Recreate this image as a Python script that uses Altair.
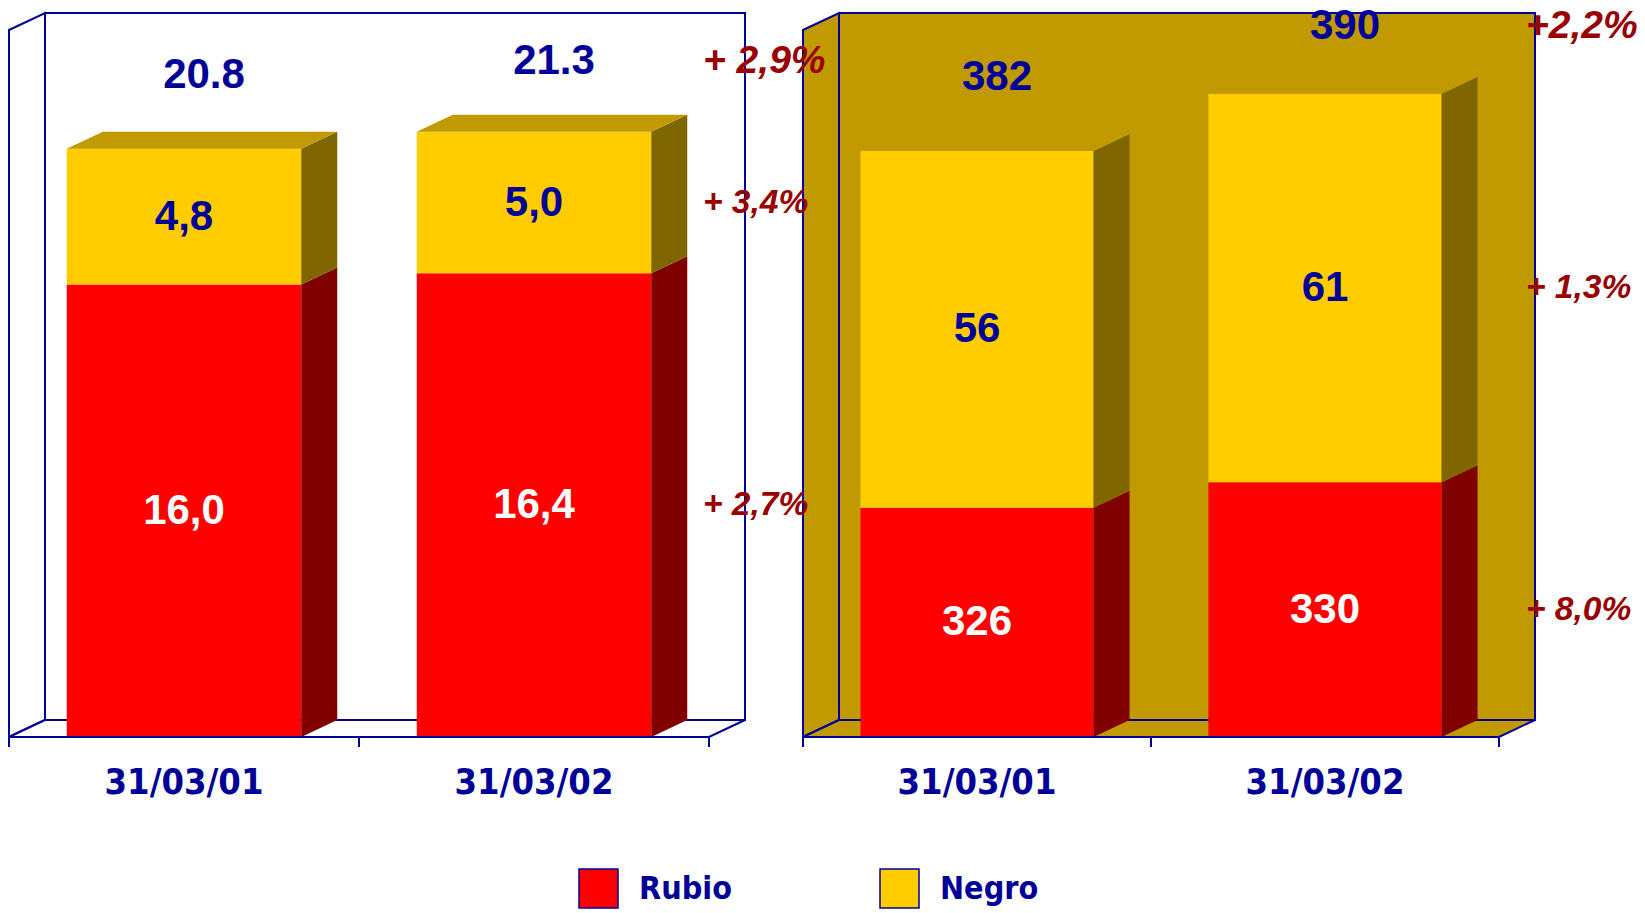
import altair as alt
import pandas as pd

# ---- data -----------------------------------------------------------------
categories = ["31/03/01", "31/03/02"]
series = ["Rubio", "Negro"]

# left panel
rubio_left = [16.0, 16.4]
negro_left = [4.8, 5.0]
total_left = [20.8, 21.3]
growth_left = ["+ 2,9%", "+ 3,4%", "+ 2,7%"]   # total, Negro, Rubio

# right panel
rubio_right = [326, 330]
negro_right = [56, 61]
total_right = [382, 390]
growth_right = ["+2,2%", "+ 1,3%", "+ 8,0%"]   # total, Negro, Rubio

# ---- style ----------------------------------------------------------------
FACE = {"Rubio": "#FF0000", "Negro": "#FFCC00"}
SIDE = {"Rubio": "#800000", "Negro": "#806600"}
LABEL_INK = {"Rubio": "#FFFFFF", "Negro": "#000099"}
TOP = "#C09A00"
INK = "#000099"
GROWTH_INK = "#990000"
ARIAL = "Liberation Sans"
NARROW = "Liberation Sans Narrow, Arial Narrow, DejaVu Sans Condensed, sans-serif"

W, H = 1645, 913
FLOOR_PX, CEIL_PX = 737, 30        # vertical extent of the front plane
DEPTH_X, DEPTH_Y = 36, 17          # 3-D depth of boxes and bars, in pixels
BAR_W = 0.67                       # bar width as a share of the category slot
TOTAL_DY = -74
LINE = dict(stroke=INK, strokeWidth=2)


def panel(rubio, negro, totals, decimals, growth, x_px, y_domain, wall_fill,
          growth_dx, legend):
    n = len(categories)
    y0, y1 = y_domain
    xs = alt.Scale(domain=[0, n], range=list(x_px), nice=False, zero=False)
    ys = alt.Scale(domain=[y0, y1], range=[FLOOR_PX, CEIL_PX], nice=False, zero=False)
    ddx = DEPTH_X * n / (x_px[1] - x_px[0])
    ddy = DEPTH_Y * (y1 - y0) / (FLOOR_PX - CEIL_PX)
    tick = 10 * (y1 - y0) / (FLOOR_PX - CEIL_PX)

    def X(f):
        return alt.X(f, type="quantitative", scale=xs, axis=None)

    def Y(f):
        return alt.Y(f, type="quantitative", scale=ys, axis=None, stack=False)

    # stacked segments; the first one rises from the floor of the axis
    rows = []
    for i, cat in enumerate(categories):
        cum, lo = 0, y0
        for s, vals in zip(series, (rubio, negro)):
            v = vals[i]
            cum += v
            rows.append(dict(cat=cat, i=i, series=s, lo=lo, hi=cum,
                             left=i + 0.5 - BAR_W / 2, right=i + 0.5 + BAR_W / 2,
                             center=i + 0.5, mid=(lo + cum) / 2,
                             label=f"{v:.{decimals}f}".replace(".", ",")))
            lo = cum
    seg = pd.DataFrame(rows)

    sides, tops = [], []
    for k, r in seg.iterrows():
        sides.append(dict(id=k, series=r.series, x=r.right, lo=r.lo, hi=r.hi))
        sides.append(dict(id=k, series=r.series, x=r.right + ddx,
                          lo=r.lo + ddy, hi=r.hi + ddy))
        if r.series == series[-1]:
            tops.append(dict(id=k, y=r.hi, xl=r.left, xr=r.right))
            tops.append(dict(id=k, y=r.hi + ddy, xl=r.left + ddx, xr=r.right + ddx))
    sides, tops = pd.DataFrame(sides), pd.DataFrame(tops)

    back = pd.DataFrame([dict(x=ddx, x2=n + ddx, y=y0 + ddy, y2=y1 + ddy)])
    side_wall = pd.DataFrame([dict(x=0, lo=y0, hi=y1),
                              dict(x=ddx, lo=y0 + ddy, hi=y1 + ddy)])
    floor = pd.DataFrame([dict(y=y0, xl=0, xr=n),
                          dict(y=y0 + ddy, xl=ddx, xr=n + ddx)])
    ticks = pd.DataFrame(dict(x=list(range(n + 1)), y=[y0] * (n + 1),
                              y2=[y0 - tick] * (n + 1)))
    base_line = pd.DataFrame([dict(x=0, x2=n, y=y0)])

    shapes = [
        alt.Chart(back).mark_rect(fill=wall_fill, **LINE).encode(
            x=X("x"), x2="x2", y=Y("y"), y2="y2"),
        alt.Chart(side_wall).mark_area(orient="vertical", fill=wall_fill, **LINE).encode(
            x=X("x"), y=Y("lo"), y2="hi"),
        alt.Chart(floor).mark_area(orient="horizontal", fill=wall_fill, **LINE).encode(
            y=Y("y"), x=X("xl"), x2="xr"),
        alt.Chart(seg).mark_rect().encode(
            x=X("left"), x2="right", y=Y("lo"), y2="hi",
            color=alt.Color("series:N",
                            scale=alt.Scale(domain=series, range=[FACE[s] for s in series]),
                            legend=legend)),
        alt.Chart(sides).mark_area(orient="vertical").encode(
            x=X("x"), y=Y("lo"), y2="hi", detail="id:N",
            color=alt.Color("series:N",
                            scale=alt.Scale(domain=series, range=[SIDE[s] for s in series]),
                            legend=None)),
        alt.Chart(tops).mark_area(orient="horizontal", fill=TOP).encode(
            y=Y("y"), x=X("xl"), x2="xr", detail="id:N"),
        alt.Chart(base_line).mark_rule(**LINE).encode(x=X("x"), x2="x2", y=Y("y")),
        alt.Chart(ticks).mark_rule(**LINE).encode(x=X("x"), y=Y("y"), y2="y2"),
    ]

    tot = pd.DataFrame(dict(center=[i + 0.5 for i in range(n)], total=totals,
                            label=[f"{t:.{decimals}f}" for t in totals]))
    cats = pd.DataFrame(dict(center=[i + 0.5 for i in range(n)], y=[y0] * n,
                             cat=categories))
    last = seg[seg.i == n - 1]
    g_total = pd.DataFrame(dict(x=[n], y=[totals[-1]], text=[growth[0]]))
    g_seg = pd.DataFrame(dict(x=[n, n],
                              y=[last[last.series == "Negro"].mid.iloc[0],
                                 last[last.series == "Rubio"].mid.iloc[0]],
                              text=growth[1:]))

    texts = [
        alt.Chart(seg).mark_text(font=ARIAL, fontWeight="bold", fontSize=42,
                                 baseline="middle").encode(
            x=X("center"), y=Y("mid"), text="label:N",
            color=alt.Color("series:N",
                            scale=alt.Scale(domain=series,
                                            range=[LABEL_INK[s] for s in series]),
                            legend=None)),
        # totals sit centred over the whole 3-D bar, depth included
        alt.Chart(tot).mark_text(font=ARIAL, fontWeight="bold", fontSize=42,
                                 baseline="middle", color=INK, dy=TOTAL_DY,
                                 dx=DEPTH_X / 2 + 2).encode(
            x=X("center"), y=Y("total"), text="label:N"),
        alt.Chart(cats).mark_text(font=NARROW, fontWeight="bold", fontSize=36,
                                  baseline="middle", color=INK, dy=46).encode(
            x=X("center"), y=Y("y"), text="cat:N"),
        alt.Chart(g_total).mark_text(font=ARIAL, fontWeight="bold", fontStyle="italic",
                                     fontSize=39, align="left", baseline="middle",
                                     color=GROWTH_INK, dx=growth_dx, dy=TOTAL_DY).encode(
            x=X("x"), y=Y("y"), text="text:N"),
        alt.Chart(g_seg).mark_text(font=ARIAL, fontWeight="bold", fontStyle="italic",
                                   fontSize=33.5, align="left", baseline="middle",
                                   color=GROWTH_INK, dx=growth_dx).encode(
            x=X("x"), y=Y("y"), text="text:N"),
    ]
    return shapes, texts


legend = alt.Legend(
    orient="none", legendX=578, legendY=868, direction="horizontal", title=None,
    symbolType="square", symbolSize=1521, symbolStrokeColor=INK,
    symbolStrokeWidth=1.5, symbolOpacity=1, labelFont=NARROW, labelFontSize=32,
    labelFontWeight="bold", labelColor=INK, labelOffset=20, columnPadding=145,
    padding=0,
)

shapes_l, texts_l = panel(rubio_left, negro_left, total_left, 1, growth_left,
                          (9, 709), (0, 25), "#FFFFFF", -6, legend)
shapes_r, texts_r = panel(rubio_right, negro_right, total_right, 0, growth_right,
                          (803, 1499), (290, 401), "#C09A00", 27, None)

chart = (
    alt.layer(*shapes_l, *shapes_r, *texts_l, *texts_r)
    .resolve_scale(x="independent", y="independent", color="independent")
    .properties(width=W, height=H, padding=0,
                autosize=alt.AutoSizeParams(type="none"), background="#FFFFFF")
    .configure_view(strokeWidth=0)
)

chart.save("out.html", embed_options={"renderer": "svg", "actions": False})
